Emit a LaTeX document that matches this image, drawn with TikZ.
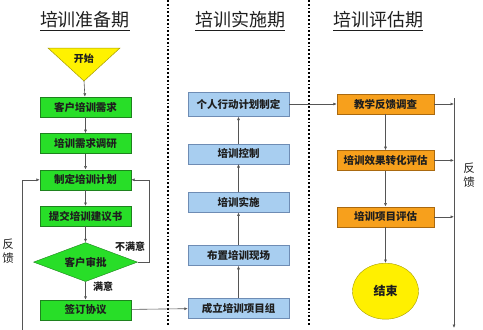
\documentclass[tikz,border=0pt]{standalone}
\usepackage{fontspec}
\setmainfont{Noto Sans CJK SC}
\usetikzlibrary{arrows.meta, positioning, shapes.geometric}

\definecolor{prepgreen}{RGB}{40,222,40}
\definecolor{prepline}{RGB}{30,130,30}
\definecolor{runblue}{RGB}{168,206,240}
\definecolor{runline}{RGB}{110,140,180}
\definecolor{evalorange}{RGB}{247,160,28}
\definecolor{evalline}{RGB}{170,105,15}
\definecolor{endyellow}{RGB}{255,240,0}
\definecolor{endline}{RGB}{165,155,0}
\definecolor{linkgray}{RGB}{85,85,85}
\definecolor{textdark}{RGB}{30,30,30}

\begin{document}
\begin{tikzpicture}[x=1pt, y=-1pt, node distance=16pt, >={Latex[length=3.5pt,width=3pt]},
  title/.style={font=\fontsize{18}{20}\selectfont, text=textdark},
  prep/.style={draw=prepline, fill=prepgreen, rectangle, minimum width=91pt, minimum height=20pt, inner sep=0pt, font=\bfseries\fontsize{10.5}{12}\selectfont, text=textdark},
  run/.style={draw=runline, fill=runblue, rectangle, minimum width=101pt, minimum height=20pt, inner sep=0pt, font=\bfseries\fontsize{10.5}{12}\selectfont, text=textdark},
  evalbox/.style={draw=evalline, fill=evalorange, rectangle, minimum width=97pt, minimum height=20pt, inner sep=0pt, font=\bfseries\fontsize{10.5}{12}\selectfont, text=textdark},
  check/.style={draw=prepline, fill=prepgreen, diamond, aspect=2.67, minimum width=104pt, minimum height=39pt, inner sep=0pt, font=\bfseries\fontsize{10.5}{12}\selectfont, text=textdark},
  tag/.style={font=\bfseries\fontsize{10}{12}\selectfont, text=textdark},
  side/.style={font=\fontsize{11.5}{14}\selectfont, text=textdark, align=center},
  link/.style={->, draw=linkgray, line width=0.6pt},
  divider/.style={line width=1.8pt, dash pattern=on 1.8pt off 2pt}]

  \useasboundingbox (0,0) rectangle (483,330);

  % column titles
  \node [title] (preptitle) at (85,21) {\underline{培训准备期}};
  \node [title] (runtitle) at (240,21) {\underline{培训实施期}};
  \node [title] (evaltitle) at (378,21) {\underline{培训评估期}};

  \draw [divider] (168,0) -- (168,325);
  \draw [divider] (309,0) -- (309,325);

  % preparation
  \filldraw [fill=yellow, draw=endline, line width=0.5pt] (48,48) -- (120,48) -- (84,81) -- cycle;
  \node [tag] (start) at (84,59) {开始};
  \coordinate (startend) at (84,81);
  \node [prep] (need) at (85.5,107) {客户培训需求};
  \node [prep, below=of need] (survey) {培训需求调研};
  \node [prep, below=of survey] (plan) {制定培训计划};
  \node [prep, below=of plan] (proposal) {提交培训建议书};
  \node [check, below=of proposal] (approve) {客户审批};
  \node [prep, below=18pt of approve] (sign) {签订协议};

  % implementation
  \node [run] (team) at (238.5,308) {成立培训项目组};
  \node [run, above=32pt of team] (site) {布置培训现场};
  \node [run, above=33pt of site] (conduct) {培训实施};
  \node [run, above=28pt of conduct] (control) {培训控制};
  \node [run, minimum height=24pt, above=27pt of control] (action) {个人行动计划制定};

  % evaluation
  \node [evalbox] (feedback) at (385.5,104) {教学反馈调查};
  \node [evalbox, below=36pt of feedback] (transfer) {培训效果转化评估};
  \node [evalbox, below=36pt of transfer] (project) {培训项目评估};
  \node [draw=endline, fill=endyellow, ellipse, minimum width=66pt, minimum height=56pt, tag, font=\bfseries\fontsize{12}{14}\selectfont, below=36pt of project] (finish) {结束};

  \coordinate (fbtop) at (454,98);
  \coordinate (fbbottom) at (454,328);
  \coordinate (fbleft) at (22,330);

  \node [side] (leftlabel) at (8,251) {反\\馈};
  \node [side] (rightlabel) at (469,175) {反\\馈};
  \node [tag] (notok) at (130,247) {不满意};
  \node [tag] (ok) at (103,287) {满意};

  \draw [link] (startend) -- (need);
  \draw [link] (need) -- (survey);
  \draw [link] (survey) -- (plan);
  \draw [link] (plan) -- (proposal);
  \draw [link] (proposal) -- (approve);
  \draw [link] (approve) -- (sign);
  \draw [link] (approve.east) -- ++(12,0) |- (plan.east);
  \draw [link] (sign) -- (team);
  \draw [link] (team) -- (site);
  \draw [link] (site) -- (conduct);
  \draw [link] (conduct) -- (control);
  \draw [link] (control) -- (action);
  \draw [link] (action.east |- feedback) -- (feedback);
  \draw [link] (feedback) -- (transfer);
  \draw [link] (transfer) -- (project);
  \draw [link] (project) -- (finish);
  \draw [link] (feedback.east) -- (feedback.east -| fbtop);
  \draw [link] (transfer.east) -- (transfer.east -| fbtop);
  \draw [link] (project.east) -- (project.east -| fbtop);
  \draw [link] (fbtop) -- (fbbottom);
  \draw [link] (fbleft) |- (plan.west);
\end{tikzpicture}
\end{document}
